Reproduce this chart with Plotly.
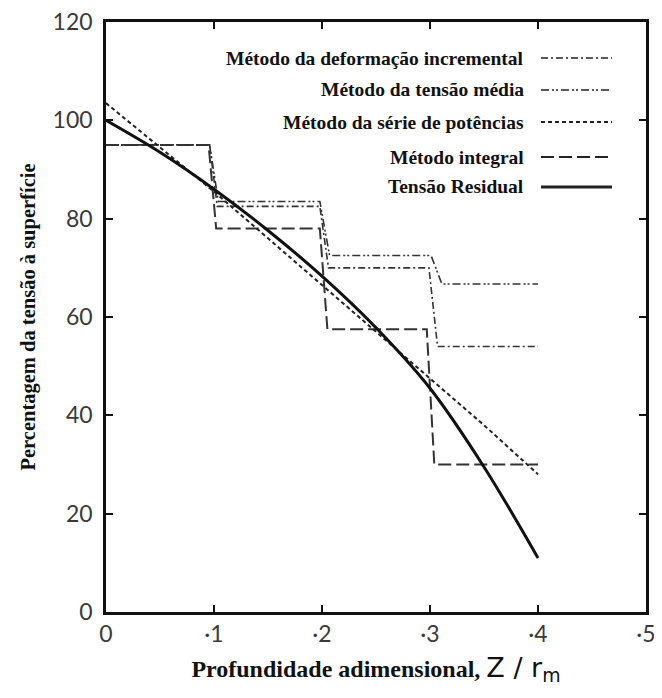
import plotly.graph_objects as go

# Data
z_residual = [0.0, 0.05, 0.10, 0.15, 0.20, 0.25, 0.30, 0.35, 0.40]
residual = [100, 93.5, 86, 77.6, 68.3, 57.8, 45.5, 29.5, 11]

z_series = [0.0, 0.05, 0.10, 0.15, 0.20, 0.25, 0.30, 0.35, 0.40]
series = [103.5, 94.5, 85.5, 76, 66.5, 57, 47.5, 38, 28]

z_integral = [0.0, 0.095, 0.102, 0.198, 0.205, 0.297, 0.304, 0.40]
integral = [95, 95, 78, 78, 57.5, 57.5, 30, 30]

z_media = [0.0, 0.096, 0.104, 0.198, 0.207, 0.301, 0.311, 0.40]
media = [95, 95, 83.5, 83.5, 72.5, 72.5, 66.7, 66.7]

z_incr = [0.0, 0.096, 0.103, 0.198, 0.206, 0.299, 0.307, 0.40]
incremental = [95, 95, 82.5, 82.5, 70, 70, 54, 54]

x_ticks = [0, 0.1, 0.2, 0.3, 0.4, 0.5]
x_ticklabels = ["0", "·1", "·2", "·3", "·4", "·5"]
y_ticks = [0, 20, 40, 60, 80, 100, 120]
y_ticklabels = ["0", "20", "40", "60", "80", "100", "120"]

legend_names = ["Método da deformação incremental", "Método da tensão média",
                "Método da série de potências", "Método integral", "Tensão Residual"]

dash_incr = "7px,3px,2px,3px"
dash_media = "8px,3px,2px,2px,2px,3px"
dash_series = "4px,3px"
dash_integral = "13px,5px"

fig = go.Figure()
fig.add_trace(go.Scatter(x=z_integral, y=integral, mode="lines",
                         line=dict(color="#333", width=2, dash=dash_integral)))
fig.add_trace(go.Scatter(x=z_media, y=media, mode="lines",
                         line=dict(color="#333", width=1.6, dash=dash_media)))
fig.add_trace(go.Scatter(x=z_incr, y=incremental, mode="lines",
                         line=dict(color="#333", width=1.6, dash=dash_incr)))
fig.add_trace(go.Scatter(x=z_series, y=series, mode="lines",
                         line=dict(color="#222", width=2, dash=dash_series)))
fig.add_trace(go.Scatter(x=z_residual, y=residual, mode="lines", line_shape="spline",
                         line=dict(color="#111", width=3)))

# Manual legend (text left, sample right); positions in screen px of the plot frame
PX0, PX1, PY0, PY1 = 106, 646, 22, 612
leg_y = [58, 90, 122, 157, 187]
dashes = [dash_incr, dash_media, dash_series, dash_integral, "solid"]
widths = [1.6, 1.6, 2, 2, 3]
for name, yp, d, w in zip(legend_names, leg_y, dashes, widths):
    yy = 1 - (yp - PY0) / (PY1 - PY0)
    fig.add_annotation(x=(526 - PX0) / (PX1 - PX0), y=yy, xref="paper", yref="paper",
                       text="<b>" + name + "</b>", showarrow=False,
                       xanchor="right", yanchor="middle",
                       font=dict(family="Liberation Serif", size=19.5, color="#111"))
    fig.add_shape(type="line", xref="paper", yref="paper",
                  x0=(541 - PX0) / (PX1 - PX0), x1=(612 - PX0) / (PX1 - PX0), y0=yy, y1=yy,
                  line=dict(color="#222", width=w, dash=d))

axis_common = dict(showline=True, linecolor="#111", linewidth=2.5, mirror="ticks",
                   ticks="inside", ticklen=7, tickwidth=2, tickcolor="#111",
                   showgrid=False, zeroline=False, automargin=False,
                   ticklabeloverflow="allow",
                   tickfont=dict(family="Lato", size=23, color="#3a3a3a"))

fig.update_xaxes(range=[0, 0.5], tickvals=x_ticks, ticktext=x_ticklabels,
                 title=dict(text="<b>Profundidade adimensional, </b><span style='font-family:DejaVu Sans;font-size:27px'>Z / r<sub>m</sub></span>",
                            font=dict(family="Liberation Serif", size=24, color="#111"),
                            standoff=14),
                 **axis_common)
fig.update_yaxes(range=[0, 120], tickvals=y_ticks, ticktext=y_ticklabels,
                 title=dict(text="<b>Percentagem da tensão à superfície</b>",
                            font=dict(family="Liberation Serif", size=20.5, color="#111"),
                            standoff=12),
                 ticklabelstandoff=6,
                 **axis_common)

# page body has an 8px margin: figure spans screen x 8..662, y 8..698
fig.update_layout(width=654, height=690, showlegend=False,
                  plot_bgcolor="white", paper_bgcolor="white",
                  margin=dict(l=98, r=16, t=14, b=86))

fig.write_html("out.html")
